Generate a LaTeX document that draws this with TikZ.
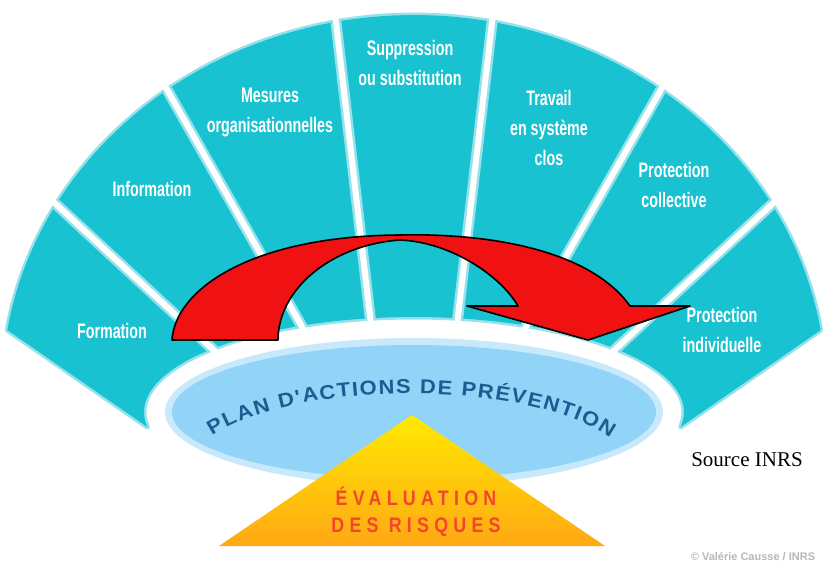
\documentclass[tikz,border=0pt]{standalone}
\usepackage{fontspec}
\setmainfont{Liberation Serif}
\newfontfamily\labfont[FakeStretch=0.68]{Liberation Sans}
\newfontfamily\planfont[FakeStretch=1.1]{Liberation Sans}
\newfontfamily\trifont[FakeStretch=0.85,LetterSpace=25]{Liberation Sans}
\newfontfamily\copyfont{Liberation Sans}
\usetikzlibrary{decorations.text}
\definecolor{fan}{RGB}{24,194,208}
\definecolor{fanglow}{RGB}{150,226,236}
\definecolor{ellblue}{RGB}{146,212,247}
\definecolor{ellglowA}{RGB}{200,233,251}
\definecolor{plantext}{RGB}{28,92,145}
\definecolor{tritop}{RGB}{255,234,0}
\definecolor{tribot}{RGB}{255,168,20}
\definecolor{tritext}{RGB}{242,70,45}
\definecolor{arrowred}{RGB}{240,18,18}
\tikzset{
  lab/.style={text=white, font=\labfont\bfseries\fontsize{21}{30}\selectfont, align=center, inner sep=0pt},
  gapglow/.style={draw=fanglow, line width=11pt},
  gapline/.style={draw=white, line width=6pt},
  arrowshape/.style={fill=arrowred, draw=black, line width=1.6pt, line join=round}
}
\begin{document}
\begin{tikzpicture}[x=1pt,y=-1pt]
\useasboundingbox (0,0) rectangle (828,567);
\fill[white] (0,0) rectangle (828,567);
\def\fanpath{plot[domain=170.8:9.2,samples=90,variable=\t] ({414+412*cos(\t)},{390-375*sin(\t)}) -- plot[domain=-9.1:189.1,samples=90,variable=\t] ({414+270*cos(\t)},{412-95*sin(\t)}) -- cycle}
% fan
\draw[draw=fanglow, line width=5pt, line join=round] \fanpath;
\fill[fan] \fanpath;
\coordinate (g1a) at (-7,146);  \coordinate (g1b) at (233,368);
\coordinate (g2a) at (116,0);   \coordinate (g2b) at (313,346);
\coordinate (g3a) at (329,-38); \coordinate (g3b) at (376,368);
\coordinate (g4a) at (499,-38); \coordinate (g4b) at (452,368);
\coordinate (g5a) at (712,0);   \coordinate (g5b) at (515,346);
\coordinate (g6a) at (835,146); \coordinate (g6b) at (595,368);
\begin{scope}
  \clip \fanpath;
  \foreach \i in {1,...,6} \draw[gapglow] (g\i a) -- (g\i b);
\end{scope}
\foreach \i in {1,...,6} \draw[gapline] (g\i a) -- (g\i b);
% labels
\node[lab] (formation) at (112,331) {Formation};
\node[lab] (information) at (152,189) {Information};
\node[lab] (mesures) at (270,113) {Mesures\\organisationnelles};
\node[lab] (suppression) at (410,63) {Suppression\\ou substitution};
\node[lab] (travail) at (549,128) {Travail\\en système\\clos};
\node[lab] (pcoll) at (674,185) {Protection\\collective};
\node[lab] (pindiv) at (722,330) {Protection\\individuelle};
% plan ellipse
\fill[ellglowA] (414,412) ellipse[x radius=249pt, y radius=74pt];
\fill[ellblue] (414,412) ellipse[x radius=242pt, y radius=67pt];
\path[decorate, decoration={text along path, text color=plantext,
  text={|\planfont\bfseries\fontsize{20}{20}\selectfont|PLAN D'ACTIONS DE PRÉVENTION},
  text align={fit to path}}]
  (212,436) .. controls (298,379) and (526,379) .. (610,438);
% triangle
\coordinate (ta) at (412,415);
\coordinate (tl) at (219,546);
\coordinate (tr) at (605,546);
\shade[top color=tritop, bottom color=tribot] (ta) -- (tr) -- (tl) -- cycle;
\node[text=tritext, font=\trifont\bfseries\fontsize{21}{27}\selectfont, align=center, inner sep=0pt] (eval) at (416,511.5) {ÉVALUATION\\DES RISQUES};
% red arrow
\draw[arrowshape] (172,340) .. controls (175,290) and (250,236) .. (400,235)
  .. controls (490,233) and (590,250) .. (630,306)
  -- (690,306) -- (588,340) -- (467,306) -- (518,306)
  .. controls (500,275) and (450,242) .. (400,240)
  .. controls (330,245) and (278,290) .. (278,340) -- cycle;
% texts
\node[font=\fontsize{21}{21}\selectfont, inner sep=0pt] (source) at (747,460) {Source INRS};
\node[font=\copyfont\bfseries\fontsize{11}{11}\selectfont, text=black!28, inner sep=0pt] (copy) at (753,557) {© Valérie Causse / INRS};
\end{tikzpicture}
\end{document}
